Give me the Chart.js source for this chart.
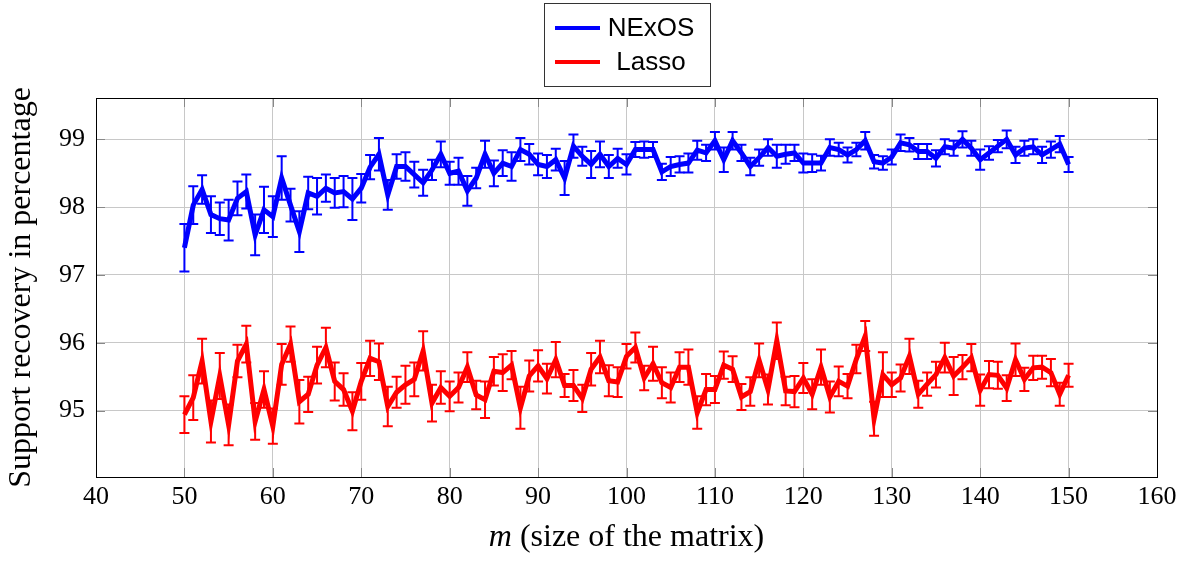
<!DOCTYPE html>
<html>
<head>
<meta charset="utf-8">
<script src="https://cdn.jsdelivr.net/npm/chart.js@4.4.0/dist/chart.umd.min.js"></script>
<style>
  html, body { margin: 0; padding: 0; background: #fff; }
  #wrap { width: 1186px; height: 561px; position: relative; }
</style>
</head>
<body>
<div id="wrap"><canvas id="chart" width="1186" height="561"></canvas></div>
<script>
// matrix sizes m
const sizes = [50, 51, 52, 53, 54, 55, 56, 57, 58, 59, 60, 61, 62, 63, 64, 65, 66, 67, 68, 69,
  70, 71, 72, 73, 74, 75, 76, 77, 78, 79, 80, 81, 82, 83, 84, 85, 86, 87, 88, 89,
  90, 91, 92, 93, 94, 95, 96, 97, 98, 99, 100, 101, 102, 103, 104, 105, 106, 107, 108, 109,
  110, 111, 112, 113, 114, 115, 116, 117, 118, 119, 120, 121, 122, 123, 124, 125, 126, 127, 128, 129,
  130, 131, 132, 133, 134, 135, 136, 137, 138, 139, 140, 141, 142, 143, 144, 145, 146, 147, 148, 149, 150];

// NExOS recovery (%) and error half-widths
const nexos = [97.40, 98.03, 98.26, 97.89, 97.83, 97.81, 98.13, 98.23, 97.59, 97.96,
  97.86, 98.43, 98.03, 97.64, 98.21, 98.16, 98.28, 98.21, 98.23, 98.12,
  98.28, 98.59, 98.78, 98.18, 98.60, 98.60, 98.48, 98.36, 98.55, 98.78,
  98.50, 98.53, 98.24, 98.43, 98.78, 98.50, 98.65, 98.60, 98.85, 98.78,
  98.63, 98.60, 98.70, 98.43, 98.90, 98.75, 98.63, 98.78, 98.60, 98.72,
  98.63, 98.85, 98.85, 98.85, 98.52, 98.60, 98.63, 98.65, 98.84, 98.80,
  98.98, 98.70, 98.98, 98.80, 98.60, 98.73, 98.88, 98.75, 98.78, 98.80,
  98.65, 98.65, 98.65, 98.88, 98.85, 98.77, 98.85, 98.98, 98.67, 98.65,
  98.74, 98.95, 98.92, 98.82, 98.82, 98.72, 98.89, 98.87, 99.00, 98.87,
  98.70, 98.80, 98.90, 99.00, 98.77, 98.87, 98.89, 98.77, 98.85, 98.93, 98.63];
const nexosErr = [0.35, 0.28, 0.21, 0.27, 0.24, 0.30, 0.25, 0.25, 0.30, 0.34,
  0.30, 0.32, 0.24, 0.30, 0.24, 0.27, 0.20, 0.22, 0.23, 0.31,
  0.21, 0.18, 0.24, 0.22, 0.18, 0.21, 0.19, 0.19, 0.15, 0.19,
  0.17, 0.20, 0.22, 0.15, 0.20, 0.19, 0.19, 0.21, 0.17, 0.15,
  0.16, 0.17, 0.16, 0.25, 0.17, 0.14, 0.20, 0.19, 0.17, 0.14,
  0.15, 0.11, 0.12, 0.11, 0.12, 0.14, 0.12, 0.14, 0.14, 0.12,
  0.13, 0.18, 0.13, 0.12, 0.13, 0.12, 0.12, 0.17, 0.14, 0.12,
  0.14, 0.13, 0.11, 0.12, 0.10, 0.11, 0.10, 0.13, 0.10, 0.10,
  0.11, 0.12, 0.10, 0.11, 0.11, 0.12, 0.11, 0.11, 0.12, 0.11,
  0.15, 0.10, 0.09, 0.13, 0.12, 0.11, 0.11, 0.12, 0.12, 0.12, 0.11];

// Lasso recovery (%) and error half-widths
const lasso = [94.94, 95.19, 95.73, 94.84, 95.51, 94.79, 95.73, 95.98, 94.84, 95.31,
  94.77, 95.68, 95.98, 95.13, 95.24, 95.67, 95.93, 95.43, 95.31, 94.99,
  95.43, 95.77, 95.72, 95.06, 95.27, 95.38, 95.46, 95.88, 95.11, 95.34,
  95.21, 95.34, 95.64, 95.23, 95.16, 95.58, 95.56, 95.67, 95.04, 95.51,
  95.66, 95.47, 95.75, 95.37, 95.37, 95.18, 95.61, 95.79, 95.44, 95.42,
  95.80, 95.93, 95.48, 95.69, 95.41, 95.34, 95.64, 95.64, 94.97, 95.31,
  95.31, 95.67, 95.61, 95.20, 95.28, 95.74, 95.31, 96.03, 95.29, 95.28,
  95.48, 95.24, 95.64, 95.20, 95.43, 95.36, 95.76, 96.10, 94.88, 95.53,
  95.38, 95.48, 95.80, 95.24, 95.39, 95.53, 95.78, 95.51, 95.64, 95.78,
  95.30, 95.53, 95.52, 95.33, 95.75, 95.46, 95.63, 95.64, 95.56, 95.24, 95.52];
const lassoErr = [0.27, 0.33, 0.33, 0.31, 0.34, 0.30, 0.24, 0.27, 0.27, 0.27,
  0.26, 0.30, 0.26, 0.32, 0.26, 0.27, 0.29, 0.28, 0.24, 0.28,
  0.27, 0.26, 0.27, 0.29, 0.23, 0.28, 0.25, 0.29, 0.27, 0.24,
  0.22, 0.22, 0.22, 0.21, 0.27, 0.21, 0.27, 0.21, 0.31, 0.23,
  0.23, 0.22, 0.26, 0.17, 0.23, 0.20, 0.24, 0.24, 0.23, 0.22,
  0.18, 0.22, 0.18, 0.25, 0.23, 0.22, 0.22, 0.26, 0.24, 0.23,
  0.20, 0.20, 0.19, 0.19, 0.21, 0.25, 0.22, 0.27, 0.21, 0.23,
  0.22, 0.22, 0.26, 0.23, 0.22, 0.18, 0.21, 0.22, 0.25, 0.33,
  0.18, 0.20, 0.26, 0.20, 0.17, 0.19, 0.22, 0.28, 0.18, 0.20,
  0.23, 0.20, 0.20, 0.19, 0.24, 0.17, 0.18, 0.17, 0.20, 0.17, 0.17];

const xTicks = [40, 50, 60, 70, 80, 90, 100, 110, 120, 130, 140, 150, 160];
const yTicks = [95, 96, 97, 98, 99];

const SERIF = "'Liberation Serif', 'Times New Roman', serif";
const SANS = "'Liberation Sans', Arial, sans-serif";

const toPoints = (vals) => sizes.map((m, i) => ({ x: m, y: vals[i] }));

// vertical error bars with caps, drawn under the lines
const errorBars = {
  id: 'errorBars',
  beforeDatasetsDraw(chart) {
    const { ctx, scales: { x, y } } = chart;
    chart.data.datasets.forEach((ds) => {
      ctx.save();
      ctx.strokeStyle = ds.borderColor;
      ctx.lineWidth = 2;
      ds.data.forEach((p, i) => {
        const px = x.getPixelForValue(p.x);
        const top = y.getPixelForValue(p.y + ds.errors[i]);
        const bot = y.getPixelForValue(p.y - ds.errors[i]);
        ctx.beginPath();
        ctx.moveTo(px, top); ctx.lineTo(px, bot);
        ctx.moveTo(px - 5, top); ctx.lineTo(px + 5, top);
        ctx.moveTo(px - 5, bot); ctx.lineTo(px + 5, bot);
        ctx.stroke();
      });
      ctx.restore();
    });
  }
};

// box around the plot, inner tick marks, x title, legend box
const frame = {
  id: 'frame',
  beforeDatasetsDraw(chart) {
    const { ctx, chartArea: a, scales: { x, y } } = chart;
    ctx.save();
    ctx.strokeStyle = '#888';
    ctx.lineWidth = 1;
    ctx.beginPath();
    xTicks.forEach((t) => {
      const px = Math.round(x.getPixelForValue(t)) + 0.5;
      ctx.moveTo(px, a.bottom); ctx.lineTo(px, a.bottom - 9);
      ctx.moveTo(px, a.top); ctx.lineTo(px, a.top + 9);
    });
    yTicks.forEach((t) => {
      const py = Math.round(y.getPixelForValue(t)) + 0.5;
      ctx.moveTo(a.left, py); ctx.lineTo(a.left + 9, py);
      ctx.moveTo(a.right, py); ctx.lineTo(a.right - 9, py);
    });
    ctx.stroke();
    ctx.restore();
  },
  afterDraw(chart) {
    const { ctx, chartArea: a } = chart;
    ctx.save();
    ctx.strokeStyle = '#000';
    ctx.lineWidth = 1;
    ctx.strokeRect(Math.round(a.left) + 0.5, Math.round(a.top) + 0.5,
      Math.round(a.right - a.left), Math.round(a.bottom - a.top));

    // x axis title with italic m
    ctx.fillStyle = '#000';
    ctx.textBaseline = 'alphabetic';
    const italic = 'italic 32px ' + SERIF;
    const roman = '32px ' + SERIF;
    ctx.font = italic;
    const w1 = ctx.measureText('m').width;
    ctx.font = roman;
    const rest = ' (size of the matrix)';
    const w2 = ctx.measureText(rest).width;
    const cx = (a.left + a.right) / 2;
    let sx = cx - (w1 + w2) / 2;
    ctx.font = italic;
    ctx.textAlign = 'left';
    ctx.fillText('m', sx, 546);
    ctx.font = roman;
    ctx.fillText(rest, sx + w1, 546);

    // legend
    ctx.strokeStyle = '#333';
    ctx.strokeRect(544.5, 3.5, 166, 83);
    ctx.font = '26px ' + SANS;
    ctx.textAlign = 'center';
    ctx.textBaseline = 'middle';
    chart.data.datasets.forEach((ds, i) => {
      const ly = 28 + i * 34;
      ctx.strokeStyle = ds.borderColor;
      ctx.lineWidth = 4;
      ctx.beginPath();
      ctx.moveTo(555, ly); ctx.lineTo(600, ly);
      ctx.stroke();
      ctx.fillStyle = '#000';
      ctx.fillText(ds.label, 651, ly + 1);
    });
    ctx.restore();
  }
};

new Chart(document.getElementById('chart'), {
  type: 'line',
  data: {
    datasets: [
      { label: 'NExOS', data: toPoints(nexos), errors: nexosErr, borderColor: '#0000ff',
        backgroundColor: '#0000ff', borderWidth: 5, pointRadius: 0, tension: 0, fill: false },
      { label: 'Lasso', data: toPoints(lasso), errors: lassoErr, borderColor: '#ff0000',
        backgroundColor: '#ff0000', borderWidth: 5, pointRadius: 0, tension: 0, fill: false }
    ]
  },
  options: {
    responsive: false,
    animation: false,
    layout: { padding: { top: 98, right: 29, bottom: 0, left: 0 } },
    plugins: { legend: { display: false }, tooltip: { enabled: false } },
    scales: {
      x: {
        type: 'linear', min: 40, max: 160,
        afterFit: (s) => { s.height = 84; },
        afterBuildTicks: (s) => { s.ticks = xTicks.map((v) => ({ value: v })); },
        grid: { color: '#c8c8c8', drawTicks: false },
        border: { display: false },
        ticks: { color: '#000', font: { family: SERIF, size: 26 }, padding: 5, maxRotation: 0 }
      },
      y: {
        min: 94.02, max: 99.61,
        afterFit: (s) => { s.width = 96; },
        afterBuildTicks: (s) => { s.ticks = yTicks.map((v) => ({ value: v })); },
        grid: { color: '#c8c8c8', drawTicks: false },
        border: { display: false },
        ticks: { color: '#000', font: { family: SERIF, size: 26 }, padding: 11 },
        title: { display: true, text: 'Support recovery in percentage', color: '#000',
          font: { family: SERIF, size: 32 }, padding: { top: 2, bottom: 0 } }
      }
    }
  },
  plugins: [errorBars, frame]
});
</script>
</body>
</html>
